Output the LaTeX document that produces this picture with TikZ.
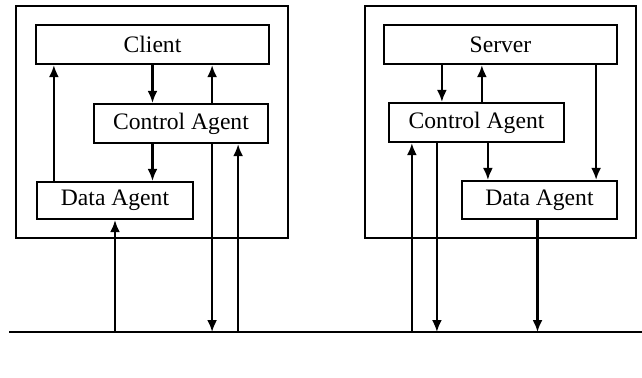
\documentclass[tikz,border=0pt]{standalone}
\usepackage{fontspec}
\setmainfont{Liberation Serif}
\usetikzlibrary{positioning, arrows.meta}

\begin{document}
\begin{tikzpicture}[x=0.5pt, y=-0.5pt, line width=1.1pt,
    >={Latex[length=6pt, width=5pt]},
    host/.style={draw, rectangle, inner sep=0pt, minimum width=136pt, minimum height=116pt},
    block/.style={draw, rectangle, inner sep=0pt, minimum height=19.5pt, font=\fontsize{11.8}{14}\selectfont}]
    \useasboundingbox (0,0) rectangle (642,377);

    % client side
    \node (clienthost) [host] at (152,122) {};
    \node (client) [block, minimum width=116.5pt] at (152.5,44.5) {Client};
    \node (ctrlL) [block, minimum width=87pt] at (181,123.5) {Control Agent};
    \node (dataL) [block, minimum width=78pt, minimum height=18.5pt] at (115,200.5) {Data Agent};

    % server side
    \node (serverhost) [host, minimum width=135.5pt] at (500.5,122) {};
    \node (server) [block, minimum width=116.5pt] at (500.5,44.5) {Server};
    \node (ctrlR) [block, minimum width=87.5pt] at (476.5,122.5) {Control Agent};
    \node (dataR) [block, minimum width=77.5pt, minimum height=19pt] at (539.5,200) {Data Agent};

    % network
    \coordinate (busW) at (9,332);
    \coordinate (busE) at (642,332);
    \draw (busW) -- (busE);

    \draw [->] (client.south) -- (client.south |- ctrlL.north);
    \draw [->] (ctrlL.south -| client.south) -- (dataL.north -| client.south);
    \draw [->] ([xshift=9pt]dataL.north west) -- ([xshift=9pt]dataL.north west |- client.south);
    \draw [->] ([xshift=-28.5pt]ctrlL.north east) -- ([xshift=-28.5pt]ctrlL.north east |- client.south);
    \draw [->] ([xshift=-28.5pt]ctrlL.south east) -- ([xshift=-28.5pt]ctrlL.south east |- busW);
    \draw [->] ([xshift=-15.5pt]ctrlL.south east |- busW) -- ([xshift=-15.5pt]ctrlL.south east);
    \draw [->] (dataL.south |- busW) -- (dataL.south);

    \draw [->] ([xshift=27pt]ctrlR.north west |- server.south) -- ([xshift=27pt]ctrlR.north west);
    \draw [->] ([xshift=47pt]ctrlR.north west) -- ([xshift=47pt]ctrlR.north west |- server.south);
    \draw [->] ([xshift=13.5pt]dataR.north west |- ctrlR.south) -- ([xshift=13.5pt]dataR.north west);
    \draw [->] ([xshift=-11pt]dataR.north east |- server.south) -- ([xshift=-11pt]dataR.north east);
    \draw [->] ([xshift=12pt]ctrlR.south west |- busW) -- ([xshift=12pt]ctrlR.south west);
    \draw [->] ([xshift=24.5pt]ctrlR.south west) -- ([xshift=24.5pt]ctrlR.south west |- busW);
    \draw [->] ([xshift=-1pt]dataR.south) -- ([xshift=-1pt]dataR.south |- busW);
\end{tikzpicture}
\end{document}
